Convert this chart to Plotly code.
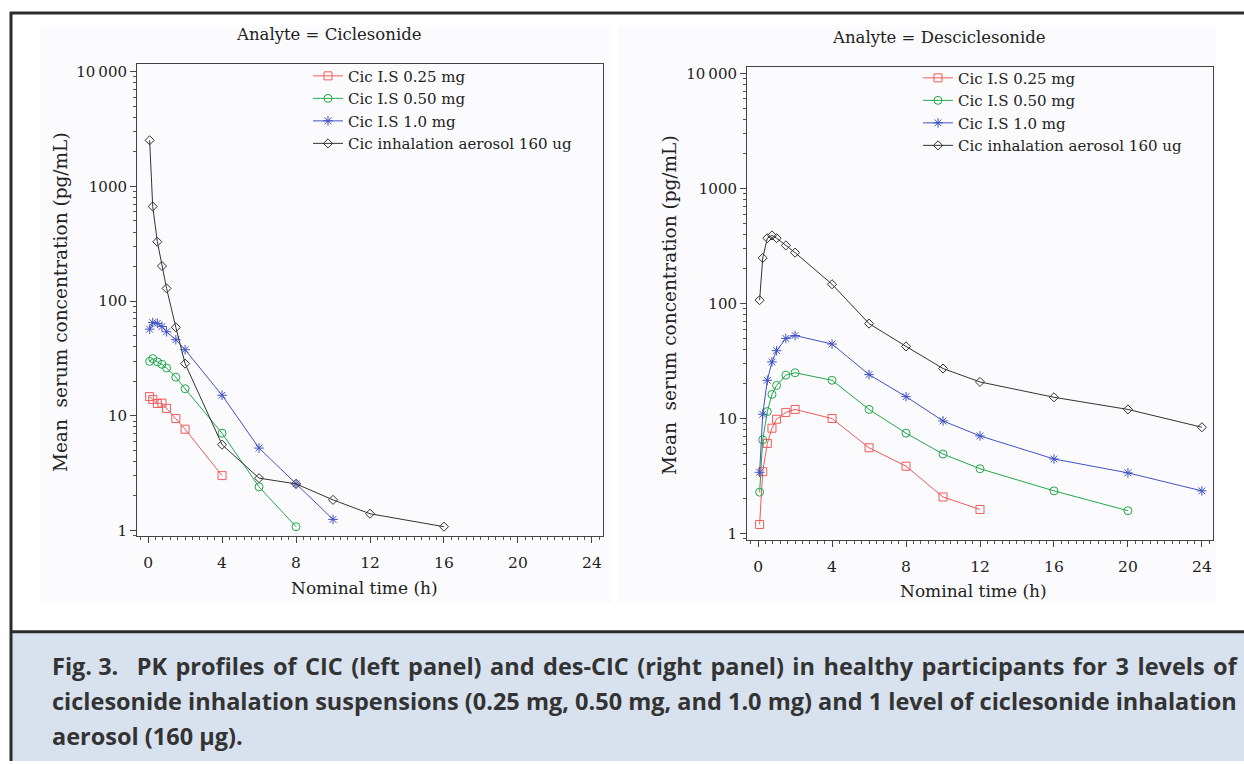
import plotly.graph_objects as go

# ---------------- data ----------------
t_full = [0.083, 0.25, 0.5, 0.75, 1, 1.5, 2, 4, 6, 8, 10, 12, 16, 20, 24]

series_names = ["Cic I.S 0.25 mg", "Cic I.S 0.50 mg", "Cic I.S 1.0 mg",
                "Cic inhalation aerosol 160 ug"]

# Left panel: Analyte = Ciclesonide
cic_025 = [14.7, 13.9, 12.8, 12.9, 11.6, 9.46, 7.64, 3.01]
cic_050 = [29.8, 31.5, 29.5, 28.1, 26.1, 21.7, 17.2, 7.05, 2.40, 1.08]
cic_100 = [56.9, 64.9, 64.0, 60.0, 54.0, 46.0, 37.7, 15.1, 5.23, 2.55, 1.25]
cic_aer = [2520, 668, 329, 202, 129, 59, 28.5, 5.6, 2.86, 2.55, 1.85, 1.40, 1.08]

# Right panel: Analyte = Desciclesonide
des_025 = [1.20, 3.45, 6.08, 8.24, 9.86, 11.3, 12.0, 10.0, 5.57, 3.85, 2.08, 1.62]
des_050 = [2.29, 6.53, 11.5, 16.2, 19.4, 23.8, 25.0, 21.5, 12.0, 7.46, 4.91, 3.66, 2.35, 1.58]
des_100 = [3.41, 10.9, 21.5, 31.1, 38.9, 49.7, 52.7, 44.4, 24.1, 15.5, 9.53, 7.06, 4.45, 3.37, 2.35]
des_aer = [107, 249, 370, 391, 370, 320, 277, 147, 66.9, 42.4, 27.2, 20.8, 15.3, 12.0, 8.4]

panel_titles = ["Analyte = Ciclesonide", "Analyte = Desciclesonide"]
x_ticks = [0, 4, 8, 12, 16, 20, 24]
y_tickvals = [1, 10, 100, 1000, 10000]
y_ticktext = ["1", "10", "100", "1000", "10\u2009000"]

HS = " \u200a"  # space + hair space, to stretch the first (justified) line
caption_lines = [
    "<b>Fig. 3.</b>   <b>" + HS.join("PK profiles of CIC (left panel) and des-CIC (right panel) in healthy participants for 3 levels of".split(" ")) + "</b>",
    "<b>ciclesonide inhalation suspensions (0.25 mg, 0.50 mg, and 1.0 mg) and 1 level of ciclesonide inhalation</b>",
    "<b>aerosol (160 \u03bcg).</b>",
]

# ---------------- styles ----------------
colors = ["#f05a5a", "#22a84a", "#4152c4", "#333333"]
symbols = ["square-open", "circle-open", "asterisk-open", "diamond-open"]
msizes = [8, 8, 8, 7]
SERIF = "DejaVu Serif"

W, H = 1244, 764


def px_x(p):
    return p / W


def px_y(p):
    return 1 - p / H


fig = go.Figure()

left_data = [cic_025, cic_050, cic_100, cic_aer]
right_data = [des_025, des_050, des_100, des_aer]

for i, ys in enumerate(left_data):
    fig.add_trace(go.Scatter(
        x=t_full[:len(ys)], y=ys, mode="lines+markers", name=series_names[i],
        line=dict(color=colors[i], width=1),
        marker=dict(symbol=symbols[i], size=msizes[i], color=colors[i],
                    line=dict(width=1, color=colors[i])),
        xaxis="x", yaxis="y", legend="legend", showlegend=True))

for i, ys in enumerate(right_data):
    fig.add_trace(go.Scatter(
        x=t_full[:len(ys)], y=ys, mode="lines+markers", name=series_names[i],
        line=dict(color=colors[i], width=1),
        marker=dict(symbol=symbols[i], size=msizes[i], color=colors[i],
                    line=dict(width=1, color=colors[i])),
        xaxis="x2", yaxis="y2", legend="legend2", showlegend=True))

axis_common_x = dict(
    range=[-0.6, 24.6], tickvals=x_ticks, ticks="outside", ticklen=6,
    tickcolor="#444", tickwidth=1, showline=True, linecolor="#444", linewidth=1,
    mirror=True, showgrid=False, zeroline=False, ticklabelstandoff=6,
    tickfont=dict(family=SERIF, size=15.5, color="#222"),
    minor=dict(ticks="outside", ticklen=3, dtick=0.4, tickcolor="#555", showgrid=False),
)
axis_common_y = dict(
    type="log", tickvals=y_tickvals, ticktext=y_ticktext, ticks="outside",
    ticklen=6, tickcolor="#444", tickwidth=1, showline=True, linecolor="#444",
    linewidth=1, mirror=True, showgrid=False, zeroline=False,
    tickfont=dict(family=SERIF, size=15, color="#222"),
    minor=dict(ticks="outside", ticklen=3, dtick="D1", tickcolor="#555", showgrid=False),
)

leg_font = dict(family=SERIF, size=15, color="#222")

fig.update_layout(
    width=W, height=H, margin=dict(l=0, r=0, t=0, b=0),
    paper_bgcolor="white", plot_bgcolor="#fdfdfe",
    xaxis=dict(domain=[px_x(137), px_x(603)], anchor="y", **axis_common_x),
    yaxis=dict(domain=[px_y(538), px_y(62)], anchor="x",
               range=[-0.052, 4.07], **axis_common_y),
    xaxis2=dict(domain=[px_x(747), px_x(1213)], anchor="y2", **axis_common_x),
    yaxis2=dict(domain=[px_y(542), px_y(65)], anchor="x2",
                range=[-0.06, 4.06], **axis_common_y),
    legend=dict(x=px_x(308), y=px_y(58), xanchor="left", yanchor="top",
                bgcolor="rgba(0,0,0,0)", itemwidth=30, tracegroupgap=0,
                font=leg_font),
    legend2=dict(x=px_x(918), y=px_y(60), xanchor="left", yanchor="top",
                 bgcolor="rgba(0,0,0,0)", itemwidth=30, tracegroupgap=0,
                 font=leg_font),
    showlegend=True,
)

shapes = [
    # panel backgrounds
    dict(type="rect", xref="paper", yref="paper", x0=px_x(40), x1=px_x(612),
         y0=px_y(605), y1=px_y(24), fillcolor="#fbfbfd", line=dict(width=0), layer="below"),
    dict(type="rect", xref="paper", yref="paper", x0=px_x(618), x1=px_x(1216),
         y0=px_y(605), y1=px_y(24), fillcolor="#fbfbfd", line=dict(width=0), layer="below"),
    # caption box
    dict(type="rect", xref="paper", yref="paper", x0=px_x(11), x1=1.0,
         y0=0, y1=px_y(634), fillcolor="#d8e1ee", line=dict(width=0), layer="below"),
    # frame lines
    dict(type="line", xref="paper", yref="paper", x0=px_x(10), x1=1.0,
         y0=px_y(11), y1=px_y(11), line=dict(color="#2b2b2b", width=3)),
    dict(type="line", xref="paper", yref="paper", x0=px_x(11), x1=px_x(11),
         y0=px_y(10), y1=0, line=dict(color="#2b2b2b", width=3)),
    dict(type="line", xref="paper", yref="paper", x0=px_x(10), x1=1.0,
         y0=px_y(634), y1=px_y(634), line=dict(color="#2b2b2b", width=3)),
]


def label(text, x, y, size, angle=0):
    return dict(text=text, x=px_x(x), y=px_y(y), xref="paper", yref="paper",
                xanchor="center", yanchor="middle", showarrow=False,
                textangle=angle, font=dict(family=SERIF, size=size, color="#222"))


annotations = [
    label(panel_titles[0], 329, 33, 16.5),
    label(panel_titles[1], 939, 36, 16.5),
    label("Nominal time (h)", 364, 590, 17),
    label("Nominal time (h)", 974, 593, 17),
    label("Mean\u00a0\u00a0serum concentration (pg/mL)", 60, 302, 18.5, -90),
    label("Mean\u00a0\u00a0serum concentration (pg/mL)", 669, 305, 18.5, -90),
]
for k, line in enumerate(caption_lines):
    annotations.append(dict(
        text=line, x=px_x(50), y=px_y(668 + 35.5 * k), xref="paper", yref="paper",
        xanchor="left", yanchor="middle", showarrow=False, align="left",
        font=dict(family="Open Sans", size=23.5, color="#333333")))

fig.update_layout(shapes=shapes, annotations=annotations)

fig.write_html("out.html", config={"displayModeBar": False},
               post_script="document.body.style.margin='0';document.body.style.overflow='hidden';")
